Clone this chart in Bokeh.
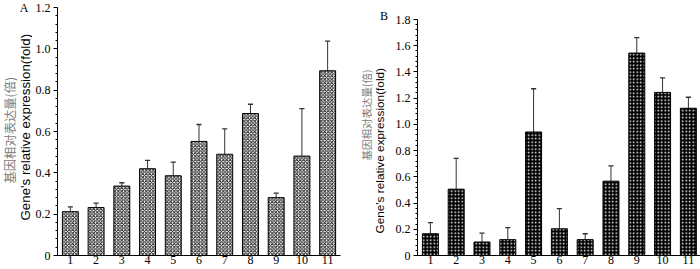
import math
from bokeh.plotting import figure
from bokeh.layouts import row
from bokeh.models import FixedTicker, ColumnDataSource
from bokeh.core.properties import value
from bokeh.embed import file_html
from bokeh.resources import INLINE

# ---- data ----
groups = [1, 2, 3, 4, 5, 6, 7, 8, 9, 10, 11]
x_labels = ["1", "2", "3", "4", "5", "6", "7", "8", "9", "10", "11"]

a_mean = [0.212, 0.232, 0.336, 0.420, 0.386, 0.552, 0.490, 0.687, 0.280, 0.481, 0.894]
a_sd = [0.023, 0.021, 0.016, 0.040, 0.066, 0.082, 0.123, 0.045, 0.022, 0.230, 0.143]

b_mean = [0.166, 0.506, 0.103, 0.121, 0.942, 0.204, 0.121, 0.567, 1.544, 1.244, 1.123]
b_sd = [0.084, 0.235, 0.068, 0.091, 0.330, 0.154, 0.045, 0.116, 0.118, 0.111, 0.084]

a_yticks = [0, 0.2, 0.4, 0.6, 0.8, 1.0, 1.2]
a_ylabels = ["0", "0.2", "0.4", "0.6", "0.8", "1.0", "1.2"]
b_yticks = [0, 0.2, 0.4, 0.6, 0.8, 1.0, 1.2, 1.4, 1.6, 1.8]
b_ylabels = ["0", "0.2", "0.4", "0.6", "0.8", "1.0", "1.2", "1.4", "1.6", "1.8"]

title_en = "Gene's relative expression(fold)"
title_zh = "基因相对表达量(倍)"

SERIF = "Liberation Serif"
SANS = "Liberation Sans"
CJK = "Noto Sans CJK SC"
H = 269
BOTTOM = 14


def title_strip(width, letter, en_pos, zh_pos, letter_pos, en_size, zh_size):
    # x/y in screen pixels (from top-left of the strip); y flipped into the range
    s = figure(width=width, height=H, output_backend="svg", toolbar_location=None,
               x_range=(0, width), y_range=(BOTTOM, H), title=None,
               x_axis_location=None, y_axis_location=None,
               min_border_left=0, min_border_right=0, min_border_top=0,
               min_border_bottom=BOTTOM)
    s.outline_line_color = None
    s.xgrid.visible = False
    s.ygrid.visible = False
    s.text(x=[en_pos[0]], y=[H - en_pos[1]], text=[title_en], angle=math.pi / 2,
           text_align="left", text_baseline="middle",
           text_font=value(SANS), text_font_size=en_size, text_color="black")
    s.text(x=[zh_pos[0]], y=[H - zh_pos[1]], text=[title_zh], angle=math.pi / 2,
           text_align="left", text_baseline="middle",
           text_font=value(CJK), text_font_size=zh_size, text_color="#7a7a7a")
    s.text(x=[letter_pos[0]], y=[H - letter_pos[1]], text=[letter],
           text_align="center", text_baseline="middle",
           text_font=value(SERIF), text_font_size="12px", text_color="black")
    return s


def make_panel(mean, sd, yticks, ylabels, ytop, yend, xend, width, bl, br,
               fill, hatch, hatch_color):
    p = figure(width=width, height=H, output_backend="svg", toolbar_location=None,
               x_range=(0.5, xend), y_range=(0, yend), title=None,
               min_border_left=bl, min_border_right=br, min_border_top=0,
               min_border_bottom=BOTTOM)
    p.outline_line_color = None
    p.xgrid.visible = False
    p.ygrid.visible = False

    tops = [m + s for m, s in zip(mean, sd)]
    src = ColumnDataSource(dict(x=groups, top=mean, etop=tops,
                                cl=[g - 0.1 for g in groups], cr=[g + 0.1 for g in groups]))
    p.segment(x0="x", y0="top", x1="x", y1="etop", source=src, line_color="#333333", line_width=1)
    p.segment(x0="cl", y0="etop", x1="cr", y1="etop", source=src, line_color="#333333", line_width=1.3)
    p.vbar(x="x", top="top", bottom=0, width=0.62, source=src,
           fill_color=fill, line_color="black", line_width=1,
           hatch_pattern=hatch, hatch_color=hatch_color, hatch_scale=3.5, hatch_weight=1)

    minors = [round(i * 0.04, 4) for i in range(int(round(ytop / 0.04)) + 1)]
    ya = p.yaxis[0]
    ya.bounds = (0, ytop)
    ya.ticker = FixedTicker(ticks=yticks, minor_ticks=minors)
    ya.major_label_overrides = {t: l for t, l in zip(yticks, ylabels)}
    ya.major_tick_out = 4
    ya.major_tick_in = 0
    ya.minor_tick_out = 2
    ya.minor_tick_in = 0
    ya.major_label_standoff = 3
    ya.major_label_text_font = SERIF
    ya.major_label_text_font_size = "12px"
    ya.major_label_text_color = "black"
    ya.axis_line_color = "black"
    ya.major_tick_line_color = "black"
    ya.minor_tick_line_color = "black"

    xa = p.xaxis[0]
    xa.ticker = FixedTicker(ticks=groups)
    xa.major_label_overrides = {g: l for g, l in zip(groups, x_labels)}
    xa.major_tick_out = 0
    xa.major_tick_in = 0
    xa.minor_tick_out = 0
    xa.minor_tick_in = 0
    xa.major_label_standoff = 0
    xa.major_label_text_font = SERIF
    xa.major_label_text_font_size = "12px"
    xa.major_label_text_color = "black"
    xa.axis_line_color = "black"
    return p


sA = title_strip(32, "A", (25, 220), (9, 183), (23.5, 7), "13.3px", "12.3px")
pA = make_panel(a_mean, a_sd, a_yticks, a_ylabels, 1.2, 1.234, 11.5, 318, 23, 10,
                "white", "diagonal_cross", "#1a1a1a")
sB = title_strip(40, "B", (29, 233), (16, 160), (33.5, 15), "11.8px", "10.5px")
pB = make_panel(b_mean, b_sd, b_yticks, b_ylabels, 1.8, 1.945, 11.47, 310, 27, 0,
                "black", "dot", "white")

layout = row(sA, pA, sB, pB)
open("out.html", "w").write(file_html(layout, INLINE))
